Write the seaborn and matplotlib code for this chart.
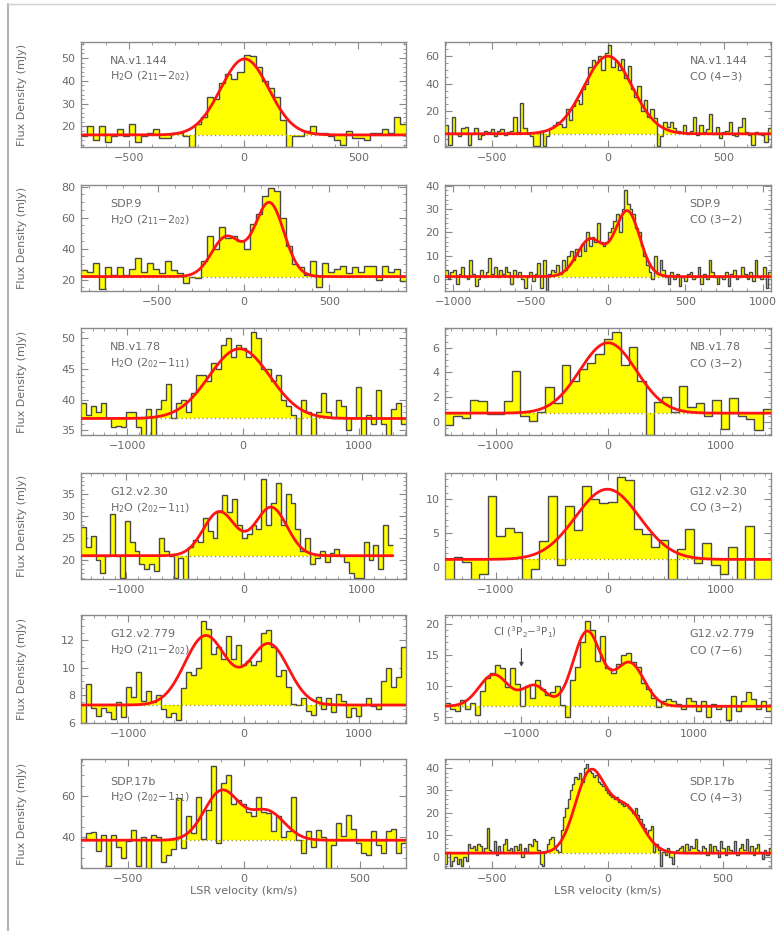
import numpy as np
import matplotlib
matplotlib.use("Agg")
import matplotlib.pyplot as plt
from matplotlib.ticker import MultipleLocator, AutoMinorLocator
from matplotlib.lines import Line2D
import seaborn as sns

sns.set_theme(style="ticks")
plt.rcParams["font.family"] = ["DejaVu Sans"]
plt.rcParams["mathtext.default"] = "regular"
plt.rcParams["mathtext.fontset"] = "dejavusans"

# ---------------------------------------------------------------- spectra
# each spectrum: channel fluxes (mJy), velocity span of the channels (km/s),
# continuum level and Gaussian fit components (amplitude, centre, sigma)

na144_h2o_flux = [16, 20, 14, 20, 13, 16, 19, 16, 21, 13,
                  16, 17, 19, 15, 15, 17, 17, 16, 11, 21,
                  24, 33, 32, 39, 43, 41, 44, 51.5, 51, 46,
                  40, 37, 33, 23, 11, 16, 16, 18, 20, 17,
                  17, 16, 14, 12, 18, 15, 15, 14, 17, 17,
                  19, 17, 24, 21]
na144_h2o_span = (-707, 707)
na144_h2o_cont = 16.3
na144_h2o_fit = [(33.3, 5, 105)]

na144_co_flux = [10, -4, 16, 4, 2, 8, 9, -4, 4, 8,
                 0, 3, 6, 5, 7, 2, 6, 7, 3, 5,
                 6, 16, 5, 26, 8, 4, 2, -5, -5, 6,
                 -5, 2, 8, 10, 12, 11, 9, 22, 14, 24,
                 28, 25, 36, 40, 52, 57, 55, 60, 50, 62,
                 68, 52, 56, 50, 58, 44, 53, 36, 30, 38,
                 20, 28, 16, 22, 15, -5, 2, 12, 9, 12,
                 8, 6, 5, 10, 4, 6, 16, 3, 10, 5,
                 7, 18, 4, 9, 1, 5, 6, 12, 3, 2,
                 9, 15, 5, 3, -4, 5, 4, 3, -2, 8]
na144_co_span = (-705, 705)
na144_co_cont = 3.8
na144_co_fit = [(56, 0, 105)]

sdp9_h2o_flux = [26, 25, 31, 14, 28, 23, 28, 23, 27, 34,
                 25, 31, 27, 24, 32, 26, 24, 18, 22, 21,
                 32, 48, 40, 54, 47, 48, 45, 40, 56, 62,
                 74, 79, 77, 60, 42, 30, 28, 23, 32, 15,
                 31, 25, 27, 29, 24, 28, 25, 29, 29, 20,
                 29, 25, 27, 19]
sdp9_h2o_span = (-945, 945)
sdp9_h2o_cont = 22
sdp9_h2o_fit = [(25.5, -100, 85), (47.5, 150, 85)]

sdp9_co_flux = [4, 0, 3, 4, -2, 2, 5, 1, 0, 8,
                2, -3, 0, 4, 1, 3, 9, 2, 5, 1,
                4, 2, 5, 3, -2, 4, 1, 3, 0, -4,
                1, 3, -1, 2, 7, -4, 8, -5, 2, 4,
                3, 6, 2, 8, 4, 10, 12, 8, 13, 10,
                15, 12, 20, 14, 18, 16, 24, 16, 14, 16,
                20, 22, 25, 28, 20, 30, 38, 32, 30, 28,
                22, 20, 14, 10, 6, 3, 0, 10, 2, 8,
                4, 1, -2, 3, 0, 2, -3, 1, -1, 2,
                3, 0, 1, 5, -2, 2, 0, 8, 3, 1,
                -2, 1, 0, 3, -3, 2, 4, 0, 1, 5,
                2, 0, 3, -1, 8, 1, 0, 5, -4, 3]
sdp9_co_span = (-1055, 1055)
sdp9_co_cont = 1.0
sdp9_co_fit = [(16, -115, 85), (28, 125, 80)]

nb178_h2o_flux = [39.5, 37.5, 39, 38, 39.5, 37, 35.5, 35.7, 35.5, 38,
                  38, 35.5, 33, 38.5, 33, 38.5, 40, 42.5, 37, 39.5,
                  40, 38, 41, 44, 44, 43, 46, 45, 49, 50,
                  47, 49, 48.5, 47, 51, 50, 45, 45, 43, 44,
                  40, 39, 37.5, 33, 40, 38, 33, 38, 41, 38,
                  37, 40, 39, 35, 37, 42, 34, 37.5, 36, 41.5,
                  36, 34, 38.5, 39.5, 36]
nb178_h2o_span = (-1400, 1410)
nb178_h2o_cont = 36.9
nb178_h2o_fit = [(11.4, -30, 263)]

nb178_co_flux = [-0.3, 0.5, 0.3, 1.8, 1.7, 0.6, 0.6, 1.7, 4.1, 0.5,
                 0.1, 0.8, 2.8, 1.5, 4.6, 3.3, 4.3, 4.8, 5.5, 6.7,
                 7.3, 4.6, 6.1, 3.3, -1.1, 1.6, 2.0, 0.8, 2.9, 1.2,
                 1.5, 0.5, 1.8, -0.6, 1.9, 0.5, 0.2, -0.7, 1.0]
nb178_co_span = (-1450, 1450)
nb178_co_cont = 0.7
nb178_co_fit = [(5.7, 0, 252)]

g1230_h2o_flux = [27.5, 23, 25.5, 20, 17, 21, 30.5, 21, 16, 29,
                  24, 22, 19, 18, 19, 17.5, 25, 22, 21, 16,
                  20.5, 15.5, 23, 24.5, 24, 29.5, 26.5, 25, 31, 34.8,
                  31, 34, 28, 25, 26, 28, 27, 38.5, 28, 33,
                  37.5, 28, 35, 33, 27, 22, 25, 19, 20.5, 22,
                  19.5, 21.5, 22.5, 21, 19.5, 17, 16, 16, 24, 20,
                  23.5, 18, 28, 23.5]
g1230_h2o_span = (-1385, 1265)
g1230_h2o_cont = 21
g1230_h2o_fit = [(10, -210, 135), (11, 230, 135)]

g1230_co_flux = [-2.5, 1.5, 0.7, -2.5, -1, 10.5, 4.5, 5.8, 5.2, -2.5,
                 -0.3, 3.8, 10.5, 0.3, 9, 5.5, 12, 10.1, 9.5, 9.6,
                 13.3, 12.8, 5.6, 4.9, 2.9, 4, -2.5, 2.6, 5.6, 0.6,
                 3.6, 0.2, -1, 3, -2.5, 6, -2.5, -2.5]
g1230_co_span = (-1450, 1450)
g1230_co_cont = 1.1
g1230_co_fit = [(10.4, -5, 284)]

g12779_h2o_flux = [6, 8.8, 7.1, 6.5, 7.1, 6.8, 6.3, 7.5, 6.4, 8.6,
                   7.9, 9.7, 7.6, 8.3, 7.5, 8.0, 7.0, 6.4, 6.7, 6.2,
                   8.5, 9.7, 9.5, 10.0, 13.4, 12.8, 11.0, 11.5, 10.6, 12.3,
                   10.6, 11.6, 10.2, 10.5, 10.2, 10.5, 12.5, 12.7, 11.5, 9.4,
                   9.8, 8.6, 7.4, 7.3, 7.8, 6.9, 6.6, 7.9, 7.0, 7.8,
                   6.8, 8.1, 7.6, 6.4, 7.1, 6.5, 7.3, 7.8, 7.2, 7.0,
                   9.0, 10.0, 8.6, 9.3, 11.5]
g12779_h2o_span = (-1412, 1412)
g12779_h2o_cont = 7.3
g12779_h2o_fit = [(5.0, -330, 180), (4.4, 220, 170)]

g12779_co_flux = [7.2, 6.2, 6.0, 7.7, 6.3, 7.3, 5.3, 9.2, 11.3, 12.0,
                  13.4, 12.8, 9.8, 12.9, 10.3, 6.8, 10.0, 8.0, 11.0, 9.5,
                  8.5, 9.0, 10.0, 6.9, 5.0, 11.0, 13.0, 17.0, 20.5, 19.0,
                  14.0, 18.0, 12.8, 12.0, 13.5, 15.0, 15.2, 13.8, 13.0, 10.5,
                  9.5, 8.0, 6.5, 7.5, 7.8, 7.6, 7.0, 6.2, 8.0, 7.5,
                  6.0, 7.5, 5.0, 7.0, 6.3, 6.7, 4.5, 8.3, 6.0, 7.5,
                  9.0, 7.8, 6.3, 7.5, 6.0]
g12779_co_span = (-1885, 1890)
g12779_co_cont = 6.7
g12779_co_fit = [(5.1, -1320, 170), (3.3, -850, 140),
                 (12.0, -240, 160), (7.0, 250, 170)]

sdp17b_h2o_flux = [39, 42, 42.5, 33, 41, 26, 41, 35, 30, 38,
                   43.5, 26, 40, 24, 41, 40, 28, 31, 34, 59,
                   34.5, 50, 42, 59.5, 39, 53, 74.5, 37, 66, 70,
                   56, 58, 56, 52, 50, 59.5, 52, 51.5, 43, 50,
                   40, 43, 59.5, 38.5, 32, 43, 35, 43.5, 40, 23,
                   36, 47, 40.5, 50.5, 44, 37, 32, 31, 43, 36,
                   32, 43, 44, 32, 37]
sdp17b_h2o_span = (-703, 700)
sdp17b_h2o_cont = 38.4
sdp17b_h2o_fit = [(24, -95, 75), (14, 100, 75)]

sdp17b_co_flux = [-3, 2, -4, -2, 0, -3, -1, -4, 0, -2,
                  6, 4, 5, 3, 6, 5, 2, 4, 13, 3,
                  2, 7, 1, 5, 2, 6, 8, 3, 4, 2,
                  5, 3, 6, 0, 4, 2, 6, 5, 8, 7,
                  3, -3, -4, 2, 6, 8, 9, 5, 3, 2,
                  12, 18, 22, 26, 30, 33, 36, 35, 38, 34,
                  40, 42, 39, 38, 36, 37, 34, 33, 32, 30,
                  29, 28, 27, 26, 27, 25, 24, 23, 24, 22,
                  21, 20, 22, 19, 17, 15, 13, 11, 12, 14,
                  2, 6, 3, -4, 2, 1, 4, 0, -3, 2,
                  3, 4, 5, 2, 6, 3, 5, 4, 8, 3,
                  2, 5, 4, 1, 6, 2, 5, 3, 0, 7,
                  4, 1, 5, 3, 2, 7, 1, 4, 6, 3,
                  8, 2, 5, 1, 4, 6, 2, -1, 3, 1, 4]
sdp17b_co_span = (-703, 707)
sdp17b_co_cont = 1.7
sdp17b_co_fit = [(36, -75, 65), (20, 80, 70)]

# ---------------------------------------------------------------- labels
H2O_211 = r"H$_2$O (2$_{11}$$-$2$_{02}$)"
H2O_202 = r"H$_2$O (2$_{02}$$-$1$_{11}$)"

rows = [
    dict(name="NA.v1.144",
         left=dict(line=H2O_211, flux=na144_h2o_flux, span=na144_h2o_span,
                   cont=na144_h2o_cont, fit=na144_h2o_fit, xlim=(-707, 707),
                   ylim=(11, 57), ystep=10, xstep=500),
         right=dict(line="CO (4\u22123)", flux=na144_co_flux, span=na144_co_span,
                    cont=na144_co_cont, fit=na144_co_fit, xlim=(-705, 705),
                    ylim=(-5.7, 70), ystep=20, xstep=500)),
    dict(name="SDP.9",
         left=dict(line=H2O_211, flux=sdp9_h2o_flux, span=sdp9_h2o_span,
                   cont=sdp9_h2o_cont, fit=sdp9_h2o_fit, xlim=(-945, 945),
                   ylim=(12.7, 81), ystep=20, xstep=500),
         right=dict(line="CO (3\u22122)", flux=sdp9_co_flux, span=sdp9_co_span,
                    cont=sdp9_co_cont, fit=sdp9_co_fit, xlim=(-1055, 1055),
                    ylim=(-5.2, 40.3), ystep=10, xstep=500)),
    dict(name="NB.v1.78",
         left=dict(line=H2O_202, flux=nb178_h2o_flux, span=nb178_h2o_span,
                   cont=nb178_h2o_cont, fit=nb178_h2o_fit, xlim=(-1400, 1410),
                   ylim=(34.2, 51.7), ystep=5, xstep=1000),
         right=dict(line="CO (3\u22122)", flux=nb178_co_flux, span=nb178_co_span,
                    cont=nb178_co_cont, fit=nb178_co_fit, xlim=(-1450, 1450),
                    ylim=(-1.07, 7.6), ystep=2, xstep=1000)),
    dict(name="G12.v2.30",
         left=dict(line=H2O_202, flux=g1230_h2o_flux, span=g1230_h2o_span,
                   cont=g1230_h2o_cont, fit=g1230_h2o_fit, xlim=(-1385, 1376),
                   ylim=(15.7, 39.8), ystep=5, xstep=1000),
         right=dict(line="CO (3\u22122)", flux=g1230_co_flux, span=g1230_co_span,
                    cont=g1230_co_cont, fit=g1230_co_fit, xlim=(-1450, 1450),
                    ylim=(-1.8, 13.9), ystep=5, xstep=1000)),
    dict(name="G12.v2.779",
         left=dict(line=H2O_211, flux=g12779_h2o_flux, span=g12779_h2o_span,
                   cont=g12779_h2o_cont, fit=g12779_h2o_fit, xlim=(-1412, 1412),
                   ylim=(6.0, 13.8), ystep=2, xstep=1000),
         right=dict(line="CO (7\u22126)", flux=g12779_co_flux, span=g12779_co_span,
                    cont=g12779_co_cont, fit=g12779_co_fit, xlim=(-1885, 1890),
                    ylim=(4.0, 21.4), ystep=5, xstep=1000)),
    dict(name="SDP.17b",
         left=dict(line=H2O_202, flux=sdp17b_h2o_flux, span=sdp17b_h2o_span,
                   cont=sdp17b_h2o_cont, fit=sdp17b_h2o_fit, xlim=(-703, 700),
                   ylim=(24.9, 77.9), ystep=20, xstep=500),
         right=dict(line="CO (4\u22123)", flux=sdp17b_co_flux, span=sdp17b_co_span,
                    cont=sdp17b_co_cont, fit=sdp17b_co_fit, xlim=(-703, 707),
                    ylim=(-5, 44.2), ystep=10, xstep=500)),
]

# ---------------------------------------------------------------- style
YELLOW = "#ffff00"
STEP = "#484848"
RED = "#ff1414"
DOT = "#a8a000"
GREY = "#6a6a6a"
SPINE = "#8a8a8a"
FS = 8

W, H = 776, 931
fig = plt.figure(figsize=(W / 100, H / 100), dpi=100)

row_px = [(42, 147), (185, 291), (328, 435), (473, 579), (615, 723), (759, 868)]
col_px = [(81, 406), (445, 771)]


def draw_spectrum(ax, p):
    flux = np.asarray(p["flux"], dtype=float)
    edges = np.linspace(p["span"][0], p["span"][1], len(flux) + 1)
    cont = p["cont"]
    ax.stairs(flux, edges, baseline=cont, fill=True, color=YELLOW,
              linewidth=0, zorder=1)
    ax.stairs(flux, edges, baseline=None, color=STEP, linewidth=1.0, zorder=2)
    ax.hlines(cont, p["span"][0], p["span"][1], colors=DOT,
              linestyles=(0, (1, 2)), linewidth=1.0, zorder=3)
    v = np.linspace(p["span"][0], p["span"][1], 800)
    model = np.full_like(v, cont)
    for amp, mu, sig in p["fit"]:
        model += amp * np.exp(-0.5 * ((v - mu) / sig) ** 2)
    sns.lineplot(x=v, y=model, ax=ax, color=RED, linewidth=2.0,
                 sort=False, estimator=None, zorder=4, legend=False)

    ax.set_xlim(*p["xlim"])
    ax.set_ylim(*p["ylim"])
    ax.xaxis.set_major_locator(MultipleLocator(p["xstep"]))
    ax.xaxis.set_minor_locator(MultipleLocator(100))
    ax.yaxis.set_major_locator(MultipleLocator(p["ystep"]))
    ax.yaxis.set_minor_locator(AutoMinorLocator())
    ax.tick_params(which="both", direction="in", top=True, right=True,
                   colors=SPINE, labelcolor=GREY, labelsize=FS)
    ax.tick_params(which="major", length=5, width=0.8, pad=4)
    ax.tick_params(which="minor", length=2.5, width=0.6)
    for s in ax.spines.values():
        s.set_color(SPINE)
        s.set_linewidth(1.0)
    ax.set_xlabel("")
    ax.set_ylabel("")
    ax.xaxis.set_major_formatter(
        matplotlib.ticker.FuncFormatter(lambda x, _: f"{x:.0f}".replace("-", "\u2212")))


for r, row in enumerate(rows):
    top, bot = row_px[r]
    for c, side in enumerate(("left", "right")):
        x0, x1 = col_px[c]
        ax = fig.add_axes([x0 / W, 1 - bot / H, (x1 - x0) / W, (bot - top) / H])
        p = row[side]
        draw_spectrum(ax, p)
        tx = 0.09 if side == "left" else 0.75
        ty1, ty2 = (0.82, 0.67) if r < 5 else (0.79, 0.65)
        ax.text(tx, ty1, row["name"], transform=ax.transAxes, ha="left",
                va="center", fontsize=FS, color=GREY, zorder=6)
        ax.text(tx, ty2, p["line"], transform=ax.transAxes, ha="left",
                va="center", fontsize=FS, color=GREY, zorder=6)
        if side == "left":
            ax.set_ylabel("Flux Density (mJy)", fontsize=FS, color=GREY)
            ax.yaxis.set_label_coords(-0.165, 0.5)
        if r == len(rows) - 1:
            ax.set_xlabel("LSR velocity (km/s)", fontsize=FS, color=GREY,
                          labelpad=2)
        if r == 4 and side == "right":
            ax.annotate("", xy=(-1000, 12.6), xytext=(-1000, 16.4),
                        arrowprops=dict(arrowstyle="-|>", color="#444444",
                                        lw=0.8, mutation_scale=6), zorder=6)
            ax.text(-960, 18.6, r"CI ($^3$P$_2$$-$$^3$P$_1$)", ha="center",
                    va="center", fontsize=7.5, color=GREY, zorder=6)

# page frame
fig.add_artist(Line2D([8 / W, 8 / W], [0, 1 - 4 / H], transform=fig.transFigure,
                      color="#b4b4b4", linewidth=1.5))
fig.add_artist(Line2D([8 / W, 1], [1 - 4 / H, 1 - 4 / H], transform=fig.transFigure,
                      color="#d0d0d0", linewidth=1.0))

fig.savefig("out.png", dpi=100, facecolor="white")
